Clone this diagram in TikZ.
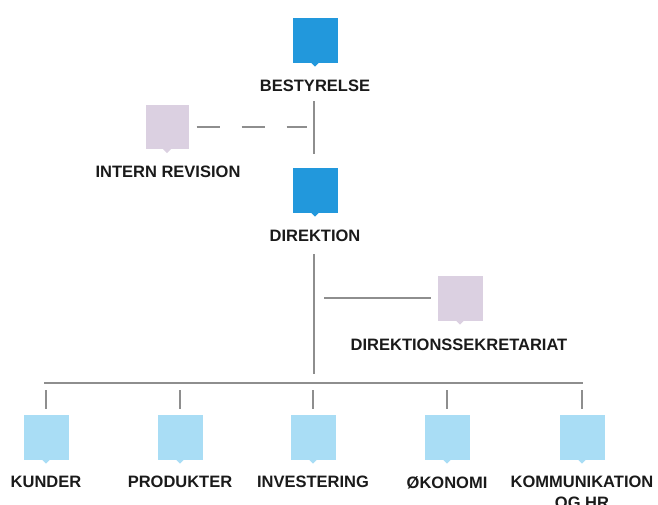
\documentclass[tikz,border=0pt]{standalone}
\usepackage{fontspec}
\setmainfont{Liberation Sans}
\usepackage{xcolor}
\definecolor{boardblue}{HTML}{2298DC}
\definecolor{unitblue}{HTML}{A9DDF5}
\definecolor{stafflilac}{HTML}{DBD0E1}
\definecolor{linegrey}{HTML}{8E8E8E}
\definecolor{textdark}{HTML}{1A1A1A}
\usepackage{tikz}
\usetikzlibrary{calc}

\begin{document}
\begin{tikzpicture}[x=1pt, y=-1pt,
  tile/.style={rectangle, inner sep=0pt, minimum width=45pt, minimum height=45pt},
  lbl/.style={anchor=north, inner sep=0pt, align=center, text=textdark,
    font=\fontsize{16.5}{21}\selectfont\bfseries},
  conn/.style={draw=linegrey, line width=1.8pt}
]
\useasboundingbox (0,0) rectangle (658,504);

% top of the tree
\node[tile, fill=boardblue] (bestyrelse) at (315,40) {};
\node[lbl] (bestyrelse-lbl) at (315,80) {BESTYRELSE};
\node[tile, fill=stafflilac, minimum width=43pt, minimum height=44pt] (revision) at (167,127) {};
\node[lbl] (revision-lbl) at (168,166) {INTERN REVISION};
\node[tile, fill=boardblue] (direktion) at (315,190) {};
\node[lbl] (direktion-lbl) at (315,230) {DIREKTION};
\node[tile, fill=stafflilac] (sekretariat) at (460,298) {};
\node[lbl] (sekretariat-lbl) at (459,339) {DIREKTIONSSEKRETARIAT};

% bottom row
\foreach \x/\name/\txt in {46/kunder/KUNDER, 180/produkter/PRODUKTER,
    313/investering/INVESTERING, 447/okonomi/ØKONOMI,
    582/kommunikation/{KOMMUNIKATION\\OG HR}} {
  \node[tile, fill=unitblue] (\name) at (\x,437) {};
  \node[lbl] (\name-lbl) at (\x,476) {\txt};
}

% small pointers under the tiles
\foreach \n/\c in {bestyrelse/boardblue, direktion/boardblue, revision/stafflilac,
    sekretariat/stafflilac, kunder/unitblue, produkter/unitblue,
    investering/unitblue, okonomi/unitblue, kommunikation/unitblue}
  \fill[\c] ([xshift=-4pt]\n.south) -- ([yshift=-4pt]\n.south) -- ([xshift=4pt]\n.south) -- cycle;

% connectors
\coordinate (revjoin) at (314,127);
\coordinate (secjoin) at (314,298);
\coordinate (busleft) at (44,383);
\coordinate (busright) at (583,383);
\coordinate (busmid) at (314,383);

\draw[conn] (314,101) -- ([yshift=13pt]direktion.north -| revjoin);
\draw[conn, dash pattern=on 23pt off 22pt, shorten <=8pt, shorten >=7pt] (revision.east) -- (revjoin);
\draw[conn] (314,254) -- ([yshift=9pt]busmid);
\draw[conn, shorten <=10pt, shorten >=6pt] (secjoin) -- (sekretariat.west);
\draw[conn] (busleft) -- (busright);
\foreach \name in {kunder, produkter, investering, okonomi, kommunikation}
  \draw[conn, shorten <=7pt, shorten >=5pt] (\name.north |- busleft) -- (\name.north);
\end{tikzpicture}
\end{document}
